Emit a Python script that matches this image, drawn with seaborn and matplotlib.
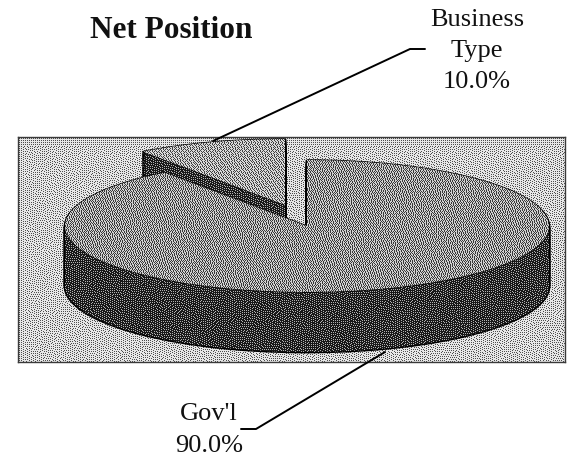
import numpy as np
import matplotlib
matplotlib.use('Agg')
import matplotlib.pyplot as plt
from matplotlib.lines import Line2D
import seaborn as sns

# Chart values
categories = ["Business\nType", "Gov'l"]
shares = [10.0, 90.0]

W, H = 581, 458
BOX = (18, 137, 565, 362)  # plot box in pixels: left, top, right, bottom
CX, CY, RX, RY = 307, 226, 242, 66  # pie ellipse in pixels
DEPTH = 60 / RY
EXPLODE = (-22 / RX, 21 / RY)


def px(x, y):
    """Pixel position to figure fraction"""
    return x / W, 1 - y / H


def dither(level, w, h):
    """Grainy stipple made by error diffusion of a flat gray level"""
    err = np.zeros((h + 1, w + 2))
    out = np.zeros((h, w))
    for y in range(h):
        for x in range(w):
            v = level + err[y, x + 1]
            out[y, x] = 1.0 if v > 0.5 else 0.0
            e = v - out[y, x]
            err[y, x + 2] += e * 7 / 16
            err[y + 1, x] += e * 3 / 16
            err[y + 1, x + 1] += e * 5 / 16
            err[y + 1, x + 2] += e * 1 / 16
    # soften the dots a bit, the original is a scanned print
    return 0.6 * out + 0.4 * level


sns.set_theme(style='white')
plt.rcParams['font.family'] = ['Liberation Serif', 'DejaVu Serif']

fig = plt.figure(figsize=(W / 100, H / 100), dpi=100)
ax = fig.add_axes([BOX[0] / W, 1 - BOX[3] / H, (BOX[2] - BOX[0]) / W, (BOX[3] - BOX[1]) / H])

xlim = ((BOX[0] - CX) / RX, (BOX[2] - CX) / RX)
ylim = ((CY - BOX[3]) / RY, (CY - BOX[1]) / RY)
extent = (xlim[0], xlim[1], ylim[0], ylim[1])
bw, bh = BOX[2] - BOX[0], BOX[3] - BOX[1]

tex_back = dither(0.76, bw, bh)
tex_main = dither(0.56, bw, bh)
tex_slice = dither(0.62, bw, bh)
tex_side = dither(0.24, bw, bh)


def textured(tex, z):
    return ax.imshow(tex, cmap='gray', vmin=0, vmax=1, extent=extent, aspect='auto',
                     interpolation='nearest', zorder=z)


def draw_wedge(idx, center, tex, z, lw):
    """Draw one pie slice, solid black outline when tex is None, else stipple clipped to it"""
    wedges, _ = ax.pie(shares, startangle=90, counterclock=True, center=center, radius=1,
                       colors=['none', 'none'], normalize=True,
                       wedgeprops={'edgecolor': 'black' if lw else 'none', 'linewidth': lw})
    wedges[1 - idx].remove()
    wedges[idx].set_zorder(z)
    if tex is not None:
        img = textured(tex, z + 0.1)
        img.set_clip_path(wedges[idx])


textured(tex_back, 0)

z = 1
for idx, (ox, oy), top in [(0, EXPLODE, tex_slice), (1, (0, 0), tex_main)]:
    # black silhouette of the extruded slice, then the stipple inside it, then the top face
    depths = np.linspace(DEPTH, 0.02, 36)
    for d in depths:
        draw_wedge(idx, (ox, oy - d), None, z, 2.0)
    z += 1
    for d in depths:
        draw_wedge(idx, (ox, oy - d), tex_side, z, 0)
        z += 1
    draw_wedge(idx, (ox, oy), top, z, 1.0)
    z += 1

ax.set_aspect('auto')
ax.set_xlim(*xlim)
ax.set_ylim(*ylim)
ax.set_xticks([])
ax.set_yticks([])
ax.set_frame_on(True)
for s in ax.spines.values():
    s.set_visible(True)
    s.set_color('#3a3a3a')
    s.set_linewidth(1.0)
    s.set_zorder(z + 1)

# Texts
fig.text(*px(171, 30), 'Net Position', ha='center', va='center', fontsize=22.5, fontweight='bold', color='#111111')
fig.text(*px(477, 51), f'{categories[0]}\n{shares[0]:.1f}%', ha='center', va='center',
         fontsize=19, linespacing=1.55, color='#111111')
fig.text(*px(209, 430), f'{categories[1]}\n{shares[1]:.1f}%', ha='center', va='center',
         fontsize=19, linespacing=1.55, color='#111111')

# Leader lines
for pts in ([(425, 49), (410, 49), (213, 141)], [(241, 429), (256, 429), (385, 352)]):
    xs, ys = zip(*[px(*p) for p in pts])
    fig.add_artist(Line2D(xs, ys, color='black', linewidth=1.4, transform=fig.transFigure))

fig.savefig('out.png', dpi=100)
